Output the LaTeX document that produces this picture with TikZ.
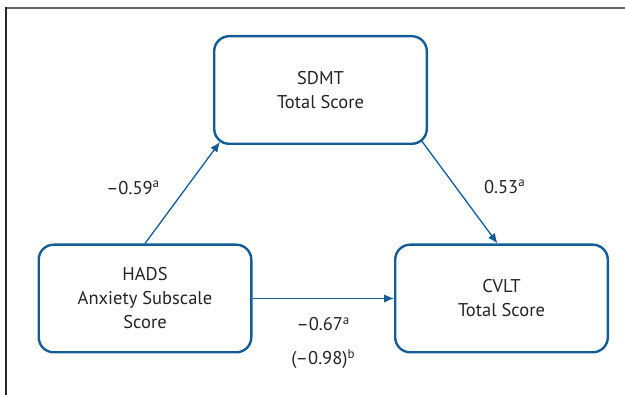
\documentclass[tikz,border=0pt]{standalone}
\usepackage{fontspec}
\setmainfont{PT Sans}
\usepackage{tikz}
\usetikzlibrary{calc}
\usetikzlibrary{arrows.meta}
\definecolor{boxblue}{RGB}{20,92,150}
\definecolor{txtgray}{RGB}{35,35,35}

\begin{document}
\begin{tikzpicture}[x=1pt,y=1pt]
      \tikzset{
        box/.style={draw=boxblue, line width=2.4pt, rectangle, rounded corners=15pt, minimum width=212.6pt, minimum height=107.6pt, inner sep=0pt, align=center, text=txtgray, font=\fontsize{18.5}{24}\selectfont},
        coef/.style={inner sep=0pt, text=txtgray, font=\fontsize{18.5}{24}\selectfont},
        line/.style={draw=boxblue, line width=1.3pt, -{Latex[length=10pt,width=8.5pt]}},
      }
      \useasboundingbox (0,0) rectangle (625,395);
      % frame, only top and left edges show
      \draw [line width=2pt, black!60] (5,387) -- (625,387);
      \draw [line width=2pt, black!85] (6,388) -- (6,0);

      \node [box] (hads) at (145,96.5) {HADS\\Anxiety Subscale\\Score};
      \node [box, right of=hads, node distance=356.5pt] (cvlt) {CVLT\\Total Score};
      \node [box] (sdmt) at (320.5,305) {SDMT\\Total Score};

      \path [line] (hads.north) -- node[coef, pos=0.55, left=26pt] {–0.59\textsuperscript{a}} ($(sdmt.south west)+(7,3)$);
      \path [line] ($(sdmt.south east)+(-7,5)$) -- node[coef, pos=0.45, right=28pt] {0.53\textsuperscript{a}} ([xshift=-4pt]cvlt.north);
      \path [line] (hads.east) -- node[coef, below=18pt] {–0.67\textsuperscript{a}}
                                   node[coef, below=50pt] {(–0.98)\textsuperscript{b}} (cvlt.west);
      \end{tikzpicture}
\end{document}
